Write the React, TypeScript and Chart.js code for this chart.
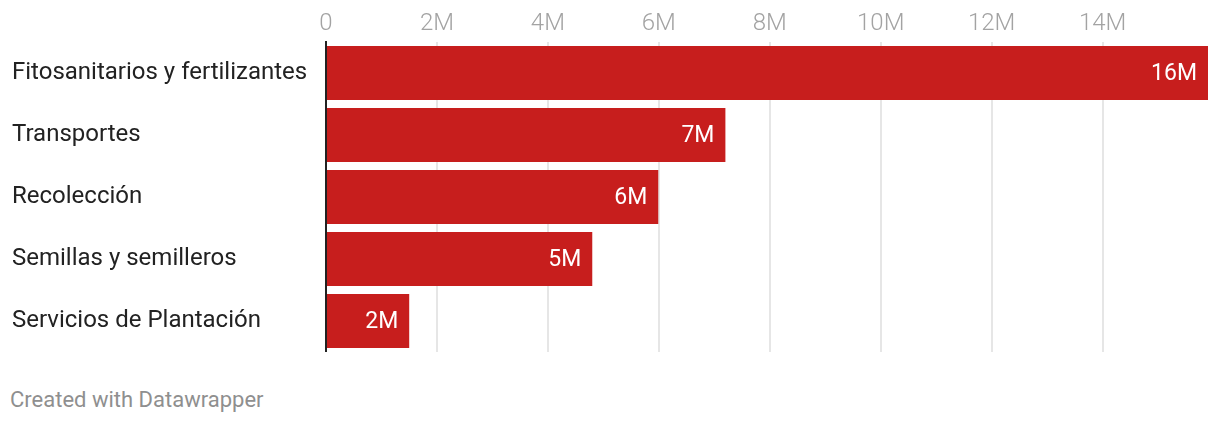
import React, { useEffect, useRef } from "react";
import { Chart, registerables } from "chart.js";

Chart.register(...registerables);

const categories = [
  "Fitosanitarios y fertilizantes",
  "Transportes",
  "Recolección",
  "Semillas y semilleros",
  "Servicios de Plantación",
];
const values = [15.9e6, 7.2e6, 5.99e6, 4.8e6, 1.5e6];
const xTickValues = [0, 2e6, 4e6, 6e6, 8e6, 10e6, 12e6, 14e6];
const xMax = 15.9e6;
const barColor = "#c71e1d";

const fmtM = (v: number) => (v === 0 ? "0" : Math.round(v / 1e6) + "M");

const valueLabels = {
  id: "valueLabels",
  afterDatasetsDraw(chart: any) {
    const ctx = chart.ctx;
    const meta = chart.getDatasetMeta(0);
    ctx.save();
    ctx.fillStyle = "#ffffff";
    ctx.font = "400 23px Roboto";
    ctx.textAlign = "right";
    ctx.textBaseline = "middle";
    meta.data.forEach((el: any, i: number) => {
      ctx.fillText(fmtM(values[i]), el.x - 11, el.y + 1);
    });
    ctx.restore();
  },
};

export default function App() {
  const ref = useRef<HTMLCanvasElement>(null);
  useEffect(() => {
    document.body.style.margin = "0";
    const chart = new Chart(ref.current!, {
      type: "bar",
      data: {
        labels: categories,
        datasets: [
          {
            data: values,
            backgroundColor: barColor,
            categoryPercentage: 1,
            barPercentage: 54 / 62,
          },
        ],
      },
      options: {
        indexAxis: "y",
        animation: false,
        responsive: true,
        maintainAspectRatio: false,
        layout: { padding: { left: 12, right: 12, top: 0, bottom: 0 } },
        plugins: { legend: { display: false }, tooltip: { enabled: false } },
        scales: {
          x: {
            position: "top",
            min: 0,
            max: xMax,
            afterBuildTicks(scale: any) {
              scale.ticks = xTickValues.map((v) => ({ value: v }));
            },
            afterFit(scale: any) {
              scale.height = 42;
              scale.paddingLeft = 0;
              scale.paddingRight = 0;
            },
            border: { display: false },
            grid: { color: "#e6e6e6", lineWidth: 2, drawTicks: false },
            ticks: {
              color: "#a3a3a3",
              font: { family: "Roboto", size: 24, weight: "300" },
              padding: 4,
              maxRotation: 0,
              autoSkip: false,
              callback: (v: any) => fmtM(Number(v)),
            },
          },
          y: {
            afterFit(scale: any) {
              scale.width = 314;
              scale.paddingTop = 0;
              scale.paddingBottom = 0;
            },
            border: { display: true, color: "#222222", width: 2 },
            grid: { display: false },
            ticks: {
              crossAlign: "far",
              color: "#222222",
              font: { family: "Roboto", size: 24, weight: "400" },
            },
          },
        },
      },
      plugins: [valueLabels],
    });
    return () => chart.destroy();
  }, []);
  return (
    <div style={{ position: "relative", width: 1220, height: 424, background: "#fff" }}>
      <div style={{ position: "absolute", left: 0, top: 0, width: 1220, height: 352 }}>
        <canvas ref={ref} />
      </div>
      <div
        style={{
          position: "absolute",
          left: 10,
          top: 386,
          fontFamily: "Roboto",
          fontSize: 22,
          color: "#8f8f8f",
          lineHeight: "28px",
        }}
      >
        Created with Datawrapper
      </div>
    </div>
  );
}
